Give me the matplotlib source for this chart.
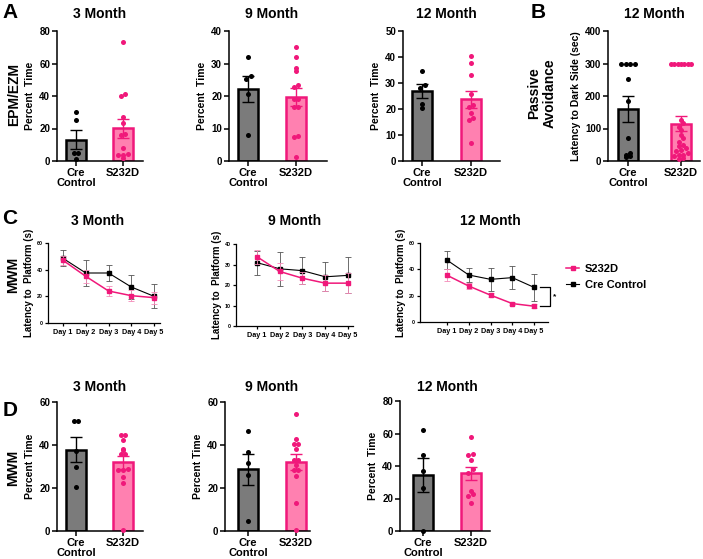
import numpy as np
import matplotlib
matplotlib.use("Agg")
import matplotlib.pyplot as plt
from matplotlib.lines import Line2D
from matplotlib.transforms import blended_transform_factory

plt.rcParams['font.family'] = ['Liberation Sans', 'DejaVu Sans']
plt.rcParams['font.weight'] = 'bold'
plt.rcParams['axes.labelweight'] = 'bold'

# ---------------- data ----------------
groups = ["Cre\nControl", "S232D"]
days = ["Day 1", "Day 2", "Day 3", "Day 4", "Day 5"]

# A: EPM/EZM percent time
epm_3m_cre_pts = [30.2, 25.1, 5.0, 5.0, 1.0]
epm_3m_cre_mean, epm_3m_cre_sem = 13.2, 5.9
epm_3m_s_pts = [73.2, 41.1, 40.0, 27.0, 23.5, 16.5, 15.8, 8.2, 4.1, 3.5, 3.5, 2.0]
epm_3m_s_mean, epm_3m_s_sem = 20.2, 5.9

epm_9m_cre_pts = [32.1, 26.1, 25.3, 20.5, 7.9]
epm_9m_cre_mean, epm_9m_cre_sem = 22.2, 4.0
epm_9m_s_pts = [35.2, 32.1, 28.6, 27.8, 23.5, 22.8, 19.1, 19.1, 16.7, 16.7, 7.6, 7.4, 1.2]
epm_9m_s_mean, epm_9m_s_sem = 19.7, 2.9

epm_12m_cre_pts = [34.5, 29.4, 28.1, 21.9, 20.2]
epm_12m_cre_mean, epm_12m_cre_sem = 26.8, 2.7
epm_12m_s_pts = [40.4, 37.8, 33.2, 25.6, 21.6, 20.8, 18.3, 16.5, 15.9, 7.1]
epm_12m_s_mean, epm_12m_s_sem = 23.7, 3.3

# B: passive avoidance latency (sec)
pa_cre_pts = [300, 300, 300, 300, 252, 186, 72, 25, 20, 14, 13]
pa_cre_mean, pa_cre_sem = 160, 41
pa_s_pts = [300, 300, 300, 300, 300, 300, 300, 125, 118, 105, 95, 80, 70, 60,
            50, 45, 40, 35, 30, 25, 20, 18, 15, 10, 5]
pa_s_mean, pa_s_sem = 115, 24

# C: MWM latency to platform (s)
mwm_3m_cre = [48.5, 37.5, 37.5, 27.0, 20.0]
mwm_3m_cre_err = [6.0, 10.0, 6.0, 9.0, 9.0]
mwm_3m_s = [47.0, 35.0, 24.0, 20.5, 19.0]
mwm_3m_s_err = [3.5, 5.0, 4.0, 4.0, 4.5]

mwm_9m_cre = [30.9, 27.9, 27.0, 24.0, 24.7]
mwm_9m_cre_err = [5.8, 8.4, 6.5, 7.0, 8.8]
mwm_9m_s = [33.8, 26.6, 23.3, 20.9, 20.9]
mwm_9m_s_err = [3.5, 4.0, 3.0, 3.8, 5.0]

mwm_12m_cre = [47.0, 35.7, 32.4, 33.7, 26.3]
mwm_12m_cre_err = [7.0, 5.2, 8.5, 8.8, 10.0]
mwm_12m_s = [35.5, 27.3, 20.4, 14.0, 12.0]
mwm_12m_s_err = [4.5, 2.0, 1.5, 1.0, 1.5]

# D: MWM probe percent time
probe_3m_cre_pts = [51.0, 51.0, 37.0, 29.8, 20.5]
probe_3m_cre_mean, probe_3m_cre_sem = 37.8, 5.9
probe_3m_s_pts = [44.5, 44.5, 42.2, 38.3, 37.5, 35.7, 35.7, 29.0, 28.2, 28.2, 25.1, 22.3, 0.3]
probe_3m_s_mean, probe_3m_s_sem = 32.0, 3.1

probe_9m_cre_pts = [46.5, 36.9, 31.6, 26.2, 4.5]
probe_9m_cre_mean, probe_9m_cre_sem = 28.8, 7.2
probe_9m_s_pts = [54.6, 42.6, 40.3, 40.3, 38.3, 33.2, 33.2, 30.5, 28.2, 28.2, 25.4, 13.2, 0.3]
probe_9m_s_mean, probe_9m_s_sem = 31.9, 3.7

probe_12m_cre_pts = [62.1, 46.7, 36.8, 26.5, 0.0]
probe_12m_cre_mean, probe_12m_cre_sem = 34.2, 10.5
probe_12m_s_pts = [58.0, 47.1, 46.7, 43.8, 37.9, 35.8, 24.7, 22.6, 21.8, 17.3]
probe_12m_s_mean, probe_12m_s_sem = 35.4, 4.1

# ---------------- style ----------------
GRAY = '#7b7b7b'
PINK_FILL = '#ff80b0'
PINK_EDGE = '#f0187a'
PINK_DOT = '#f0187a'
PINK_ERR = '#f48ab8'

W, H = 703, 559
fig = plt.figure(figsize=(W / 100, H / 100), dpi=100)


def add_ax(x0, y0, x1, y1):
    return fig.add_axes([x0 / W, 1 - y1 / H, (x1 - x0) / W, (y1 - y0) / H])


def ftxt(x, y, s, **kw):
    fig.text(x / W, 1 - y / H, s, **kw)


def style_axes(ax, lw=1.1, ticklen=3.5, labsize=7):
    for sp in ['top', 'right']:
        ax.spines[sp].set_visible(False)
    for sp in ['left', 'bottom']:
        ax.spines[sp].set_linewidth(lw)
    ax.tick_params(width=lw, length=ticklen, labelsize=labsize, pad=1.5)
    for lab in ax.get_yticklabels() + ax.get_xticklabels():
        lab.set_fontweight('bold')


def swarm(vals, center, ypx, xpx, d=4.8, maxw=20):
    vals = np.asarray(vals, float)
    bins = np.floor(vals * ypx / d + 1e-9).astype(int)
    xs = np.zeros(len(vals))
    for b in np.unique(bins):
        idx = np.where(bins == b)[0]
        k = len(idx)
        sp = d if (k - 1) * d <= maxw else maxw / (k - 1)
        order = idx[np.argsort(vals[idx])]
        for i, j in enumerate(order):
            xs[j] = center + (i - (k - 1) / 2) * sp / xpx
    return xs


def bar_panel(box, xlim, ylim, yticks, cre_pts, cre_mean, cre_sem,
              s_pts, s_mean, s_sem, ylabel, title, title_y):
    x0, y0, x1, y1 = box
    ax = add_ax(*box)
    ax.set_xlim(*xlim)
    ax.set_ylim(*ylim)
    xpx = (x1 - x0) / (xlim[1] - xlim[0])
    ypx = (y1 - y0) / (ylim[1] - ylim[0])
    bw = 20 / xpx
    ax.bar([0], [cre_mean], width=bw, color=GRAY, edgecolor='black',
           linewidth=1.8, zorder=2)
    ax.bar([1], [s_mean], width=bw, color=PINK_FILL, edgecolor=PINK_EDGE,
           linewidth=1.8, zorder=2)
    ax.errorbar([0], [cre_mean], yerr=[cre_sem], color='black', capsize=4.5,
                elinewidth=1.0, capthick=1.0, zorder=3)
    ax.errorbar([1], [s_mean], yerr=[s_sem], color=PINK_EDGE, capsize=4.5,
                elinewidth=1.0, capthick=1.0, zorder=3)
    ax.scatter(swarm(cre_pts, 0, ypx, xpx), cre_pts, s=13, color='black',
               zorder=4, clip_on=False, linewidths=0)
    ax.scatter(swarm(s_pts, 1, ypx, xpx), s_pts, s=13, color=PINK_DOT,
               zorder=4, clip_on=False, linewidths=0)
    ax.set_yticks(yticks)
    ax.set_xticks([0, 1])
    ax.set_xticklabels(groups, fontsize=8, linespacing=1.05)
    ax.set_ylabel(ylabel, fontsize=7.5, labelpad=3)
    style_axes(ax)
    ax.tick_params(axis='x', labelsize=8)
    tr = blended_transform_factory(ax.transData, fig.transFigure)
    ax.text(0.5, 1 - title_y / H, title, transform=tr, ha='center',
            va='center', fontsize=10, fontweight='bold')
    return ax


def line_panel(box, xlim, ylim, yticks, cre, cre_err, s, s_err, title, title_x):
    ax = add_ax(*box)
    x = np.arange(1, len(days) + 1)
    ax.set_xlim(*xlim)
    ax.set_ylim(*ylim)
    ax.errorbar(x, cre, yerr=cre_err, fmt='none', ecolor='#555555',
                elinewidth=0.6, capsize=2, capthick=0.6, zorder=2)
    ax.plot(x, cre, color='black', lw=0.8, marker='s', ms=2.6, zorder=3,
            label='Cre Control')
    ax.errorbar(x, s, yerr=s_err, fmt='none', ecolor=PINK_ERR,
                elinewidth=0.6, capsize=2, capthick=0.6, zorder=4)
    ax.plot(x, s, color=PINK_EDGE, lw=1.1, marker='s', ms=3.2, zorder=5,
            label='S232D')
    ax.set_xticks(x)
    ax.set_xticklabels(days, fontsize=5.2)
    ax.set_yticks(yticks)
    ax.set_ylabel("Latency to  Platform (s)", fontsize=7, labelpad=2)
    style_axes(ax, lw=0.9, ticklen=2, labsize=3.8)
    ax.tick_params(axis='x', labelsize=5.2, pad=2)
    ftxt(title_x, 221, title, ha='center', va='center', fontsize=10,
         fontweight='bold')
    return ax


# ---------------- row A / B ----------------
bar_panel((57, 31, 143, 161), (-0.404, 1.426), (0, 80), [0, 20, 40, 60, 80],
          epm_3m_cre_pts, epm_3m_cre_mean, epm_3m_cre_sem,
          epm_3m_s_pts, epm_3m_s_mean, epm_3m_s_sem,
          "Percent  Time", "3 Month", 14)
bar_panel((229, 31, 327, 161), (-0.40, 1.65), (0, 40), [0, 10, 20, 30, 40],
          epm_9m_cre_pts, epm_9m_cre_mean, epm_9m_cre_sem,
          epm_9m_s_pts, epm_9m_s_mean, epm_9m_s_sem,
          "Percent  Time", "9 Month", 14)
bar_panel((403, 31, 500, 161), (-0.39, 1.59), (0, 50), [0, 10, 20, 30, 40, 50],
          epm_12m_cre_pts, epm_12m_cre_mean, epm_12m_cre_sem,
          epm_12m_s_pts, epm_12m_s_mean, epm_12m_s_sem,
          "Percent  Time", "12 Month", 14)
bar_panel((608, 31, 700, 161), (-0.38, 1.36), (0, 400), [0, 100, 200, 300, 400],
          pa_cre_pts, pa_cre_mean, pa_cre_sem,
          pa_s_pts, pa_s_mean, pa_s_sem,
          "Latency to Dark Side (sec)", "12 Month", 14)

# ---------------- row C ----------------
line_panel((48, 243, 160, 323), (0.34, 5.26), (0, 60), [0, 20, 40, 60],
           mwm_3m_cre, mwm_3m_cre_err, mwm_3m_s, mwm_3m_s_err, "3 Month", 98)
line_panel((236, 244, 353, 326), (0.08, 5.22), (0, 40), [0, 10, 20, 30, 40],
           mwm_9m_cre, mwm_9m_cre_err, mwm_9m_s, mwm_9m_s_err, "9 Month", 295)
ax12 = line_panel((420, 243, 548, 322), (-0.24, 5.64), (0, 60), [0, 20, 40, 60],
                  mwm_12m_cre, mwm_12m_cre_err, mwm_12m_s, mwm_12m_s_err,
                  "12 Month", 490)

# significance bracket between day-5 means
n = len(days)
ya, yb = mwm_12m_cre[-1], mwm_12m_s[-1]
ax12.plot([n + 0.28, n + 0.74, n + 0.74, n + 0.28], [ya, ya, yb, yb],
          color='black', lw=0.9, clip_on=False)
ax12.text(n + 0.95, (ya + yb) / 2, "*", fontsize=6, ha='center', va='center')

handles = [Line2D([], [], color=PINK_EDGE, lw=1.1, marker='s', ms=3.2),
           Line2D([], [], color='black', lw=0.8, marker='s', ms=2.4)]
fig.legend(handles, ["S232D", "Cre Control"], loc='center left',
           bbox_to_anchor=(556 / W, 1 - 277 / H), frameon=False,
           handlelength=1.2, handletextpad=0.5, labelspacing=0.6,
           prop={'weight': 'bold', 'size': 8})

# ---------------- row D ----------------
bar_panel((57, 402, 143, 531), (-0.404, 1.426), (0, 60), [0, 20, 40, 60],
          probe_3m_cre_pts, probe_3m_cre_mean, probe_3m_cre_sem,
          probe_3m_s_pts, probe_3m_s_mean, probe_3m_s_sem,
          "Percent Time", "3 Month", 387)
bar_panel((225, 402, 310, 531), (-0.48, 1.29), (0, 60), [0, 20, 40, 60],
          probe_9m_cre_pts, probe_9m_cre_mean, probe_9m_cre_sem,
          probe_9m_s_pts, probe_9m_s_mean, probe_9m_s_sem,
          "Percent Time", "9 Month", 387)
bar_panel((400, 401, 490, 531), (-0.48, 1.40), (0, 80), [0, 20, 40, 60, 80],
          probe_12m_cre_pts, probe_12m_cre_mean, probe_12m_cre_sem,
          probe_12m_s_pts, probe_12m_s_mean, probe_12m_s_sem,
          "Percent  Time", "12 Month", 387)

# ---------------- panel letters and row labels ----------------
for lx, ly, letter in [(10, 13, "A"), (538, 13, "B"), (10, 219, "C"), (10, 410, "D")]:
    ftxt(lx, ly, letter, ha='center', va='center', fontsize=15, fontweight='bold')

ftxt(14, 94, "EPM/EZM", rotation=90, ha='center', va='center', fontsize=10,
     fontweight='bold')
ftxt(542, 93, "Passive\nAvoidance", rotation=90, ha='center', va='center',
     fontsize=10, fontweight='bold', linespacing=1.1)
ftxt(13, 275, "MWM", rotation=90, ha='center', va='center', fontsize=10,
     fontweight='bold')
ftxt(13, 468, "MWM", rotation=90, ha='center', va='center', fontsize=10,
     fontweight='bold')

fig.savefig("out.png", dpi=100)
